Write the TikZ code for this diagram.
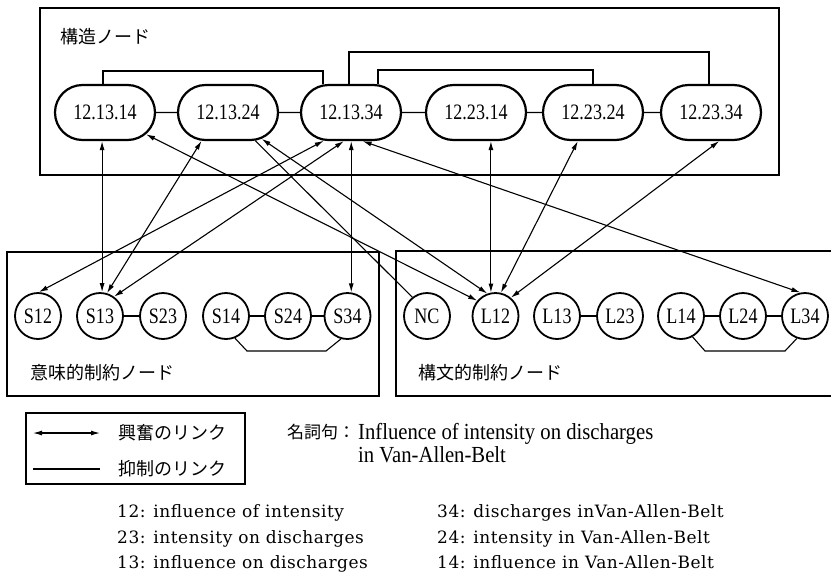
\documentclass[tikz,border=0pt]{standalone}
\usepackage{fontspec}
\setmainfont{Liberation Serif}
\newfontfamily\cjk{Noto Sans CJK JP}
\newfontfamily\nodefont[FakeStretch=0.82]{Liberation Serif}
\newfontfamily\phrfont[FakeStretch=0.9]{Liberation Serif}
\newfontfamily\listfont[LetterSpace=3]{DejaVu Serif}
\usetikzlibrary{shapes.misc,arrows.meta}
\begin{document}
\begin{tikzpicture}[x=1pt,y=-1pt,
  >={Latex[length=9pt,width=5pt]},
  stad/.style={rounded rectangle, draw, line width=2.2pt, minimum width=100pt, minimum height=55pt, inner sep=0pt, font=\nodefont\fontsize{22}{24}\selectfont},
  circ/.style={circle, draw, line width=1.8pt, minimum size=46pt, inner sep=0pt, font=\nodefont\fontsize{22}{24}\selectfont},
  grp/.style={line width=1.3pt},
  link/.style={line width=1.1pt},
  jp/.style={font=\cjk\fontsize{18}{20}\selectfont, inner sep=0pt, anchor=west},
  lst/.style={anchor=base west, inner sep=0pt, font=\listfont\fontsize{17}{19}\selectfont},
  phr/.style={anchor=base west, inner sep=0pt, font=\phrfont\fontsize{23}{26}\selectfont}
]
\useasboundingbox (0,0) rectangle (831,574);

% group boxes
\draw[grp] (40,8) rectangle (779,175);
\draw[grp] (7,252) rectangle (379,396);
\draw[grp] (831,251) -- (396,251) -- (396,396) -- (831,396);

\node[jp] (lab1) at (60,37) {構造ノード};
\node[jp] (lab2) at (30,373) {意味的制約ノード};
\node[jp] (lab3) at (418,373) {構文的制約ノード};

% structure nodes
\node[stad] (n1) at (105,112.5) {12.13.14};
\node[stad] (n2) at (228,112.5) {12.13.24};
\node[stad] (n3) at (351,112.5) {12.13.34};
\node[stad] (n4) at (476,112.5) {12.23.14};
\node[stad] (n5) at (593,112.5) {12.23.24};
\node[stad] (n6) at (711,112.5) {12.23.34};

\draw[link] (n1) -- (n2);
\draw[link] (n2) -- (n3);
\draw[link] (n3) -- (n4);
\draw[link] (n4) -- (n5);
\draw[link] (n5) -- (n6);

\coordinate (b1) at (0,71);
\coordinate (b2) at (0,52);
\coordinate (b3) at (0,70);
\draw[link] ([xshift=-2pt]n1.north) -- ([xshift=-2pt]n1.north |- b1) -- ([xshift=-28pt]n3.north |- b1) -- ([xshift=-28pt]n3.north);
\draw[link] ([xshift=-2pt]n3.north) -- ([xshift=-2pt]n3.north |- b2) -- ([xshift=-2pt]n6.north |- b2) -- ([xshift=-2pt]n6.north);
\draw[link] ([xshift=27pt]n3.north) -- ([xshift=27pt]n3.north |- b3) -- (n5.north |- b3) -- (n5.north);

% semantic constraint nodes
\node[circ] (S12) at (38,316) {S12};
\node[circ] (S13) at (100,316) {S13};
\node[circ] (S23) at (163,316) {S23};
\node[circ] (S14) at (226,316) {S14};
\node[circ] (S24) at (288,316) {S24};
\node[circ] (S34) at (347.5,316) {S34};

% syntactic constraint nodes
\node[circ] (NC) at (427,316) {NC};
\node[circ] (L12) at (495.5,316) {L12};
\node[circ] (L13) at (557,316) {L13};
\node[circ] (L23) at (620,316) {L23};
\node[circ] (L14) at (681,316) {L14};
\node[circ] (L24) at (743,316) {L24};
\node[circ] (L34) at (805,316) {L34};

\draw[link] (S13) -- (S23);
\draw[link] (S14) -- (S24);
\draw[link] (S24) -- (S34);
\draw[link] (L13) -- (L23);
\draw[link] (L14) -- (L24);
\draw[link] (L24) -- (L34);
\draw[link] (S14.-68) -- (247,351) -- (326,351) -- (S34.-106);
\draw[link] (L14.-61) -- (705,351) -- (785,351) -- (L34.-110);

% excitatory links
\draw[link,<->] (S13.85) -- (S13.85 |- n1.south);
\draw[link,<->] (n1.-28) -- (L12.140);
\draw[link,<->] (n2.-133) -- (S13.73);
\draw[link,<->] (n2.-38) -- (L12.110);
\draw[link] (n2.-46) -- (NC.128);
\draw[link,<->] (n3.-134) -- (S12.88);
\draw[link,<->] (n3.-104) -- (S13.54);
\draw[link,<->] (S34.81) -- (S34.81 |- n3.south);
\draw[link,<->] (n3.-68) -- (L34.101);
\draw[link,<->] (L12.101) -- (L12.101 |- n4.south);
\draw[link,<->] (n5.-118) -- (L12.77);
\draw[link,<->] (n6.-74) -- (L12.50);

% legend
\draw[grp] (26,413) rectangle (245,484);
\coordinate (la) at (33,433);
\coordinate (lb) at (100,433);
\draw[link,<->] (la) -- (lb);
\node[jp] (lt1) at (118,433) {興奮のリンク};
\coordinate (lc) at (33,469);
\coordinate (ld) at (100,469);
\draw[link] (lc) -- (ld);
\node[jp] (lt2) at (118,469) {抑制のリンク};

% noun phrase
\node[jp, font=\cjk\fontsize{17}{19}\selectfont] (np) at (287,432) {名詞句：};
\node[phr] (ph1) at (358,439) {Influence of intensity on discharges};
\node[phr] (ph2) at (358,462) {in Van-Allen-Belt};

% list
\node[lst] (d1) at (117,517) {12: influence of intensity};
\node[lst] (d2) at (117,543) {23: intensity on discharges};
\node[lst] (d3) at (117,568) {13: influence on discharges};
\node[lst] (d4) at (437,517) {34: discharges inVan-Allen-Belt};
\node[lst] (d5) at (437,543) {24: intensity in Van-Allen-Belt};
\node[lst] (d6) at (437,568) {14: influence in Van-Allen-Belt};
\end{tikzpicture}
\end{document}
